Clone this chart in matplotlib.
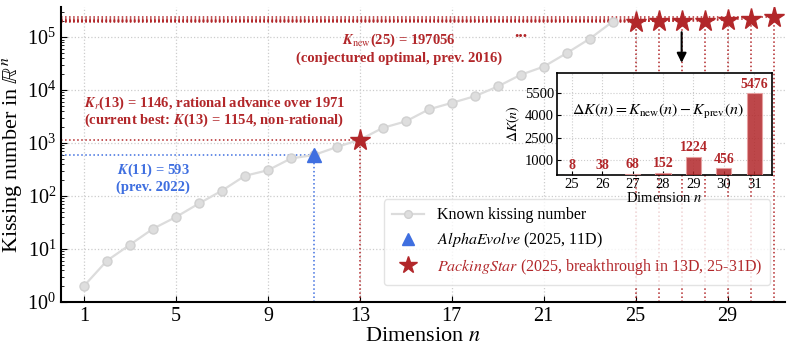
import numpy as np
import matplotlib.pyplot as plt

plt.rcParams['font.family'] = ['Liberation Serif', 'DejaVu Serif']
plt.rcParams['mathtext.fontset'] = 'stix'

RED = '#b2272a'
BLUE = '#3f6fe0'
GRAY = '#dcdcdc'

# known kissing numbers (lower bounds) for n = 1..24
dims = list(range(1, 25))
known = [2, 6, 12, 24, 40, 72, 126, 240, 306, 510, 593, 840, 1154, 1932,
         2564, 4320, 5730, 7654, 11692, 19448, 27720, 49896, 93150, 196560]

alpha_n = 11
alpha_k = 593
star13_n = 13
star13_k = 1146

new_dims = [25, 26, 27, 28, 29, 30, 31]
k_new = [197056, 198518, 199980, 204340, 209376, 219464, 244124]
delta = [8, 38, 68, 152, 1224, 456, 5476]

x_ticks = [1, 5, 9, 13, 17, 21, 25, 29]
inset_yticks = [1000, 2500, 4000, 5500]


def main():
    fig = plt.figure(figsize=(7.93, 3.53), dpi=100)
    ax = fig.add_axes([0.077, 0.145, 0.913, 0.835])

    ax.set_yscale('log')
    ax.set_xlim(0, 31.5)
    ax.set_ylim(1, 3.7e5)

    # dotted guide lines
    ax.hlines(alpha_k, 0, alpha_n, colors=BLUE, linestyles=':', lw=1.1, zorder=2)
    ax.vlines(alpha_n, 1, alpha_k, colors=BLUE, linestyles=':', lw=1.1, zorder=2)
    ax.hlines(star13_k, 0, star13_n, colors=RED, linestyles=':', lw=1.1, zorder=2)
    ax.vlines(star13_n, 1, star13_k, colors=RED, linestyles=':', lw=1.1, zorder=2)
    for n, k in zip(new_dims, k_new):
        ax.hlines(k, 0, n, colors=RED, linestyles=':', lw=1.1, zorder=2)
        ax.vlines(n, 1, k, colors=RED, linestyles=':', lw=1.1, zorder=2)

    ax.plot(dims, known, '-o', color=GRAY, lw=1.6, ms=6.5,
            mfc='#dedede', mec='#d0d0d0', zorder=3, label='Known kissing number')
    ax.plot([alpha_n], [alpha_k], '^', color=BLUE, ms=10, zorder=5,
            linestyle='none', label=r'$\mathit{AlphaEvolve}$ (2025, 11D)')
    ax.plot([star13_n] + new_dims, [star13_k] + k_new, '*', color=RED, ms=15.5,
            zorder=5, linestyle='none',
            label=r'$\mathit{PackingStar}$ (2025, breakthrough in 13D, 25-31D)')

    ax.set_xticks(x_ticks)
    ax.grid(True, linestyle=':', color='#cccccc', lw=0.9)
    ax.tick_params(axis='both', which='both', direction='in', labelsize=14.5)
    ax.tick_params(axis='both', which='major', length=4)
    ax.tick_params(axis='y', which='minor', length=2.5)
    for s in ['top', 'right']:
        ax.spines[s].set_visible(False)
    for s in ['left', 'bottom']:
        ax.spines[s].set_linewidth(1.5)

    ax.set_xlabel('Dimension $n$', fontsize=16, labelpad=1)
    ax.set_ylabel(r'Kissing number in $\mathbb{R}^n$', fontsize=16, labelpad=2)

    # annotations
    ax.text(14.7, 8.8e4, r'$\mathbfit{K}_{\mathrm{new}}$(25) = 197056', color=RED,
            fontsize=10.5, fontweight='bold', ha='center', va='center')
    ax.text(14.7, 4.0e4, '(conjectured optimal, prev. 2016)', color=RED,
            fontsize=10.5, fontweight='bold', ha='center', va='center')
    ax.text(20, 1.25e5, '...', color=RED, fontsize=13, fontweight='bold',
            ha='center', va='center')
    ax.text(1, 5.5e3, r'$\mathbfit{K}_{\mathit{r}}$(13) = 1146, rational advance over 1971',
            color=RED, fontsize=10.5, fontweight='bold', ha='left', va='center')
    ax.text(1, 2.65e3, r'(current best: $\mathbfit{K}$(13) = 1154, non-rational)',
            color=RED, fontsize=10.5, fontweight='bold', ha='left', va='center')
    ax.text(4, 310, r'$\mathbfit{K}$(11) = 593', color=BLUE, fontsize=10.5,
            fontweight='bold', ha='center', va='center')
    ax.text(4, 148, '(prev. 2022)', color=BLUE, fontsize=10.5,
            fontweight='bold', ha='center', va='center')

    ax.annotate('', xy=(27, 2.9e4), xytext=(27, 1.4e5),
                arrowprops=dict(arrowstyle='-|>', color='black', lw=1.5,
                                mutation_scale=14), zorder=6)

    leg = ax.legend(loc='lower right', fontsize=11.5, frameon=True,
                    bbox_to_anchor=(0.99, 0.03), borderpad=0.5,
                    handlelength=2.0, labelspacing=0.45, markerscale=0.85)
    leg.get_frame().set_edgecolor('#dddddd')
    leg.get_texts()[2].set_color(RED)

    # inset with improvements
    ins = fig.add_axes([0.702, 0.504, 0.272, 0.289])
    ins.bar(new_dims, delta, width=0.5, color=RED, alpha=0.85,
            edgecolor='#e8a0a0', lw=0.8, zorder=3)
    for n, d in zip(new_dims, delta):
        ins.text(n, d + 180, str(d), color=RED, fontsize=10, fontweight='bold',
                 ha='center', va='bottom')
    ins.set_ylim(0, max(delta) * 1.25)
    ins.set_xlim(24.5, 31.6)
    ins.set_xticks(new_dims)
    ins.set_yticks(inset_yticks)
    ins.grid(True, linestyle=':', color='#cccccc', lw=0.8)
    ins.tick_params(direction='in', labelsize=10.5, length=3, pad=2)
    for s in ins.spines.values():
        s.set_linewidth(1.2)
    ins.set_xlabel('Dimension $n$', fontsize=10.5, labelpad=0)
    ins.set_ylabel(r'$\Delta K(n)$', fontsize=10, labelpad=2)
    ins.text(0.47, 0.62, r'$\Delta K(n) = K_{\mathrm{new}}(n) - K_{\mathrm{prev}}(n)$',
             transform=ins.transAxes, fontsize=11.5, ha='center', va='center')

    fig.savefig('out.png', dpi=100)


main()
